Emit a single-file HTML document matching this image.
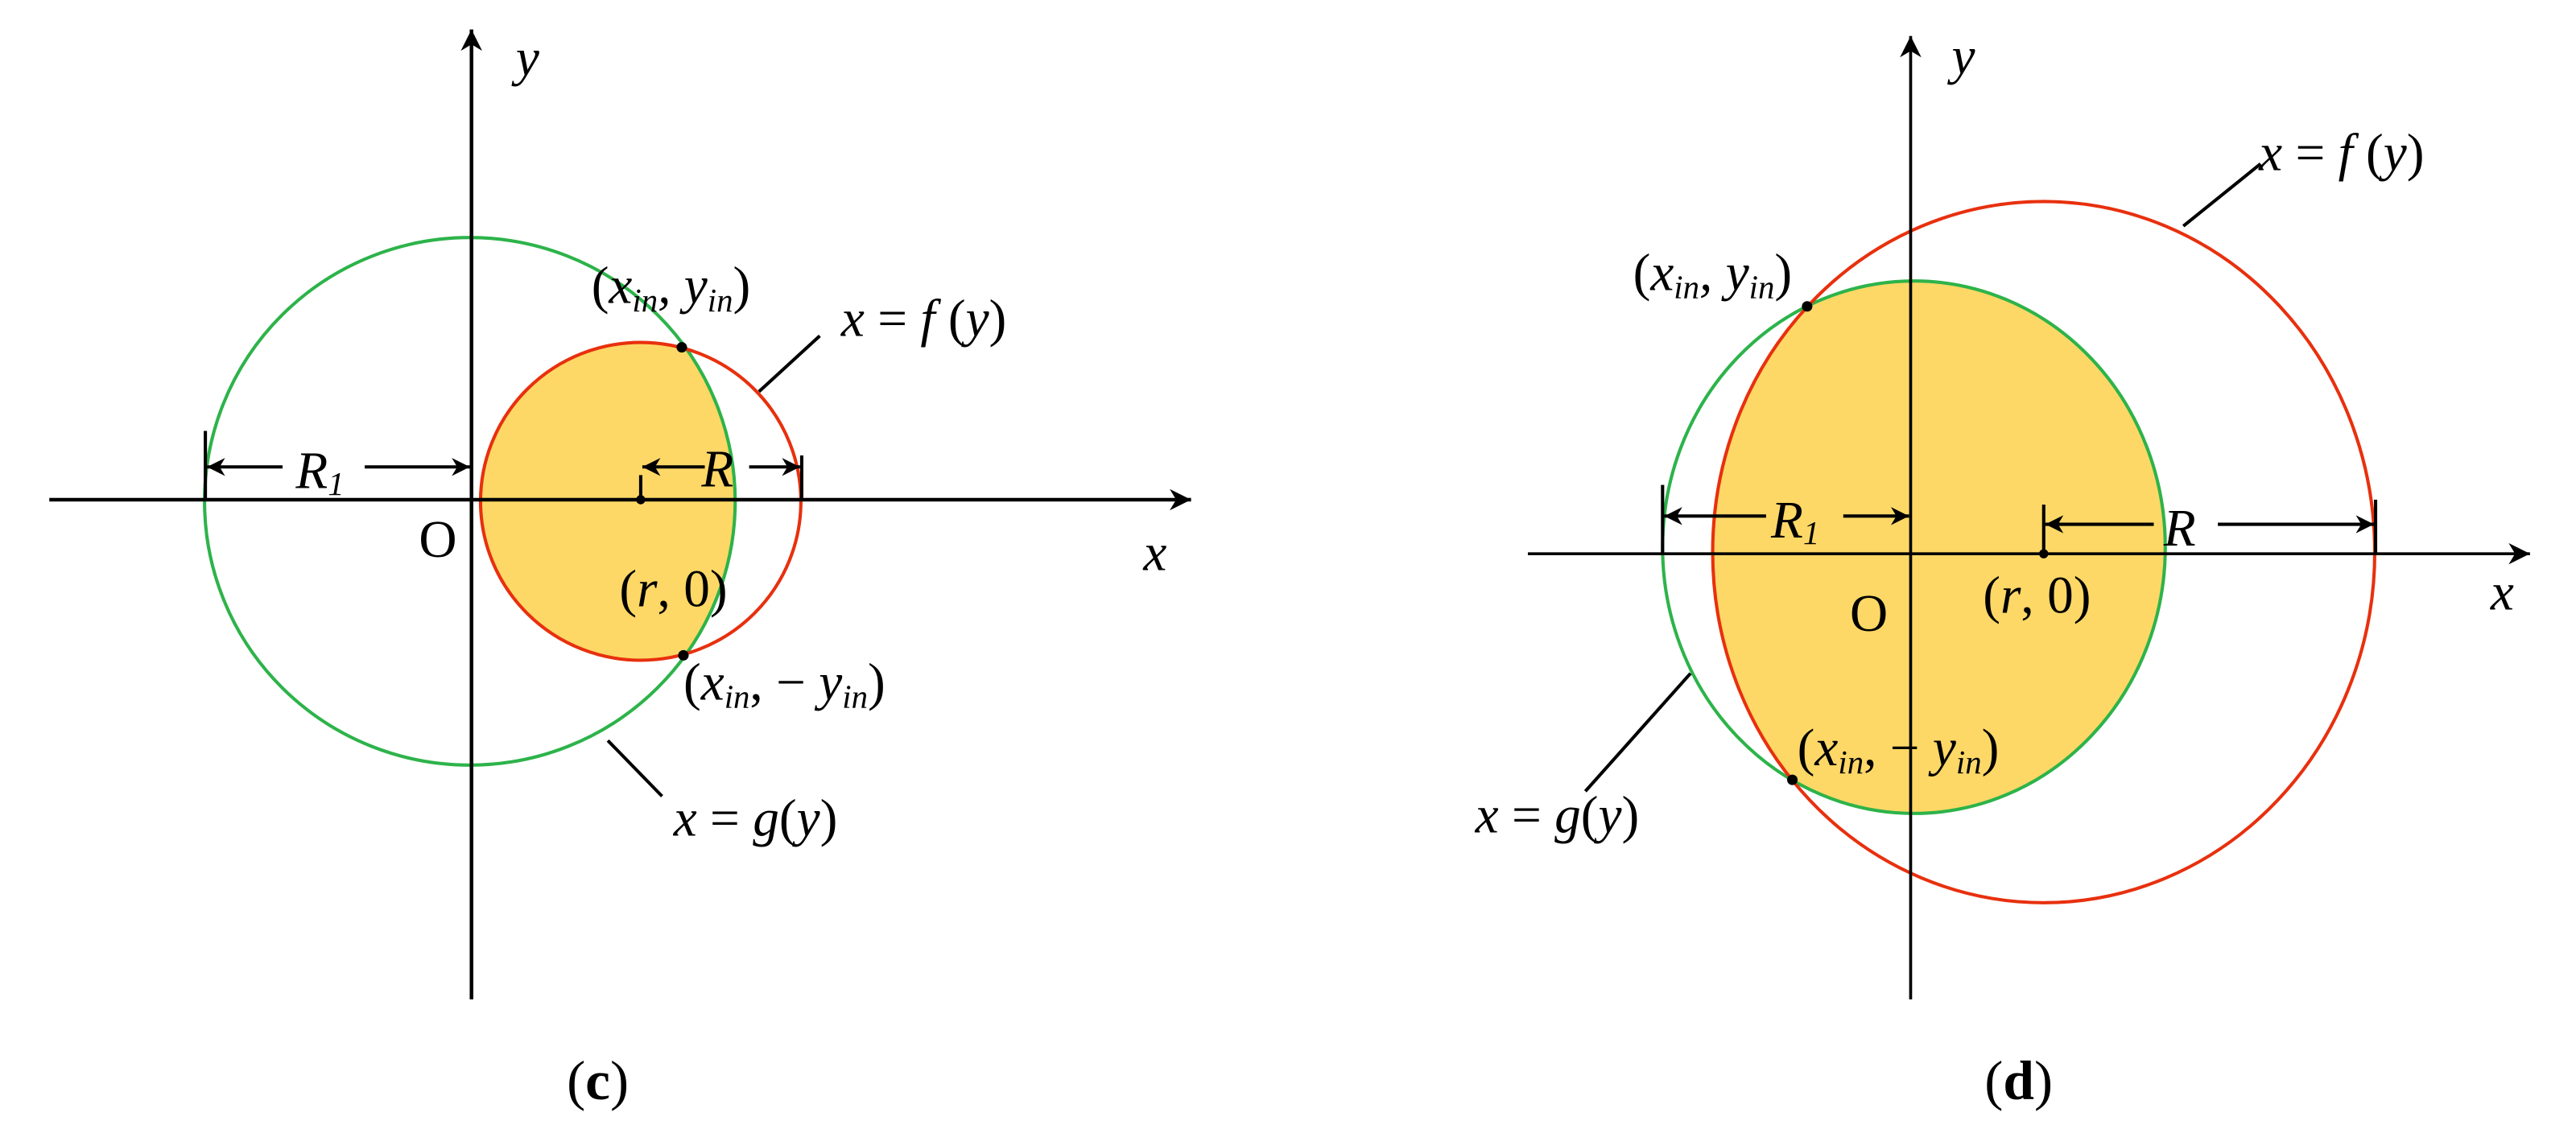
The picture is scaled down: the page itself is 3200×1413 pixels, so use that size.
<!DOCTYPE html>
<html><head><meta charset="utf-8"><style>html,body{margin:0;padding:0;background:#fff;}svg{display:block}</style></head>
<body>
<svg width="3200" height="1413" viewBox="0 0 1568 694" preserveAspectRatio="none" xmlns="http://www.w3.org/2000/svg">
<defs>
<clipPath id="cg1"><ellipse cx="286" cy="306" rx="161.5" ry="161"/></clipPath>
<clipPath id="cr2"><ellipse cx="1244" cy="337" rx="201.5" ry="214"/></clipPath>
<marker id="ah" viewBox="0 0 10 10" refX="10" refY="5" markerWidth="16" markerHeight="11" markerUnits="userSpaceOnUse" orient="auto"><path d="M0,0 L10,5 L0,10 L3,5 z" fill="#000"/></marker>
<marker id="ax" viewBox="0 0 10 10" refX="10" refY="5" markerWidth="20" markerHeight="13" markerUnits="userSpaceOnUse" orient="auto"><path d="M0,0 L10,5 L0,10 L3,5 z" fill="#000"/></marker>
</defs>
<g font-family="Liberation Serif, serif" font-style="italic" font-size="32" fill="#000">
<!-- LEFT PANEL -->
<ellipse cx="390" cy="306" rx="97.5" ry="97" fill="#FDD866" clip-path="url(#cg1)"/>
<ellipse cx="286" cy="306" rx="161.5" ry="161" fill="none" stroke="#2DB34A" stroke-width="2"/>
<ellipse cx="390" cy="306" rx="97.5" ry="97" fill="none" stroke="#E8300E" stroke-width="2"/>
<line x1="30" y1="305" x2="725" y2="305" stroke="#000" stroke-width="2.2" marker-end="url(#ax)"/>
<line x1="287" y1="610" x2="287" y2="18" stroke="#000" stroke-width="2.2" marker-end="url(#ax)"/>
<line x1="125" y1="263" x2="125" y2="305" stroke="#000" stroke-width="2"/>
<line x1="172" y1="285" x2="126" y2="285" stroke="#000" stroke-width="2" marker-end="url(#ah)"/>
<line x1="222" y1="285" x2="286" y2="285" stroke="#000" stroke-width="2" marker-end="url(#ah)"/>
<text x="180" y="298">R<tspan font-size="20" dy="4">1</tspan></text>
<line x1="390" y1="290" x2="390" y2="305" stroke="#000" stroke-width="2"/>
<line x1="488" y1="278" x2="488" y2="305" stroke="#000" stroke-width="2"/>
<line x1="429" y1="285" x2="391" y2="285" stroke="#000" stroke-width="2" marker-end="url(#ah)"/>
<line x1="456" y1="285" x2="487" y2="285" stroke="#000" stroke-width="2" marker-end="url(#ah)"/>
<text x="427" y="297">R</text>
<circle cx="390" cy="305" r="2.8"/>
<circle cx="415" cy="212" r="3.2"/>
<circle cx="416" cy="400" r="3.2"/>
<text x="314" y="46">y</text>
<text x="696" y="348">x</text>
<text x="255" y="340" font-style="normal">O</text>
<text x="377" y="370"><tspan font-style="normal">(</tspan>r<tspan font-style="normal">, 0)</tspan></text>
<text x="360" y="185"><tspan font-style="normal">(</tspan>x<tspan font-size="20" dy="5">in</tspan><tspan dy="-5">, y</tspan><tspan font-size="20" dy="5">in</tspan><tspan font-style="normal" dy="-5">)</tspan></text>
<text x="416" y="427"><tspan font-style="normal">(</tspan>x<tspan font-size="20" dy="5">in</tspan><tspan dy="-5" font-style="normal">, − </tspan><tspan>y</tspan><tspan font-size="20" dy="5">in</tspan><tspan font-style="normal" dy="-5">)</tspan></text>
<line x1="462" y1="239" x2="499" y2="205" stroke="#000" stroke-width="2"/>
<text x="512" y="205">x <tspan font-style="normal">=</tspan> f <tspan font-style="normal">(</tspan>y<tspan font-style="normal">)</tspan></text>
<line x1="370" y1="452" x2="403" y2="486" stroke="#000" stroke-width="2"/>
<text x="410" y="510">x <tspan font-style="normal">=</tspan> g<tspan font-style="normal">(</tspan>y<tspan font-style="normal">)</tspan></text>
<text x="345" y="671" font-style="normal" font-size="34">(<tspan font-weight="bold">c</tspan>)</text>

<!-- RIGHT PANEL -->
<ellipse cx="1165" cy="334" rx="153" ry="162.5" fill="#FDD866" clip-path="url(#cr2)"/>
<ellipse cx="1165" cy="334" rx="153" ry="162.5" fill="none" stroke="#2DB34A" stroke-width="2"/>
<ellipse cx="1244" cy="337" rx="201.5" ry="214" fill="none" stroke="#E8300E" stroke-width="2"/>
<line x1="930" y1="338" x2="1540" y2="338" stroke="#000" stroke-width="1.8" marker-end="url(#ax)"/>
<line x1="1163" y1="610" x2="1163" y2="22" stroke="#000" stroke-width="1.8" marker-end="url(#ax)"/>
<line x1="1012" y1="296" x2="1012" y2="338" stroke="#000" stroke-width="2"/>
<line x1="1075" y1="315" x2="1013" y2="315" stroke="#000" stroke-width="2" marker-end="url(#ah)"/>
<line x1="1122" y1="315" x2="1162" y2="315" stroke="#000" stroke-width="2" marker-end="url(#ah)"/>
<text x="1078" y="328">R<tspan font-size="20" dy="4">1</tspan></text>
<line x1="1244" y1="308" x2="1244" y2="338" stroke="#000" stroke-width="2"/>
<line x1="1311" y1="320" x2="1245" y2="320" stroke="#000" stroke-width="2" marker-end="url(#ah)"/>
<line x1="1350" y1="320" x2="1445" y2="320" stroke="#000" stroke-width="2" marker-end="url(#ah)"/>
<line x1="1446" y1="305" x2="1446" y2="338" stroke="#000" stroke-width="2"/>
<text x="1317" y="333">R</text>
<circle cx="1244" cy="338" r="2.8"/>
<circle cx="1100" cy="187" r="3.2"/>
<circle cx="1091" cy="476" r="3.2"/>
<text x="1188" y="45">y</text>
<text x="1516" y="372">x</text>
<text x="1126" y="385" font-style="normal">O</text>
<text x="1207" y="374"><tspan font-style="normal">(</tspan>r<tspan font-style="normal">, 0)</tspan></text>
<text x="994" y="177"><tspan font-style="normal">(</tspan>x<tspan font-size="20" dy="5">in</tspan><tspan dy="-5">, y</tspan><tspan font-size="20" dy="5">in</tspan><tspan font-style="normal" dy="-5">)</tspan></text>
<text x="1094" y="467"><tspan font-style="normal">(</tspan>x<tspan font-size="20" dy="5">in</tspan><tspan dy="-5" font-style="normal">, − </tspan><tspan>y</tspan><tspan font-size="20" dy="5">in</tspan><tspan font-style="normal" dy="-5">)</tspan></text>
<line x1="1329" y1="138" x2="1376" y2="100" stroke="#000" stroke-width="2"/>
<text x="1375" y="104">x <tspan font-style="normal">=</tspan> f <tspan font-style="normal">(</tspan>y<tspan font-style="normal">)</tspan></text>
<line x1="965" y1="483" x2="1029" y2="411" stroke="#000" stroke-width="2"/>
<text x="898" y="508">x <tspan font-style="normal">=</tspan> g<tspan font-style="normal">(</tspan>y<tspan font-style="normal">)</tspan></text>
<text x="1208" y="671" font-style="normal" font-size="34">(<tspan font-weight="bold">d</tspan>)</text>
</g>
</svg>
</body></html>
